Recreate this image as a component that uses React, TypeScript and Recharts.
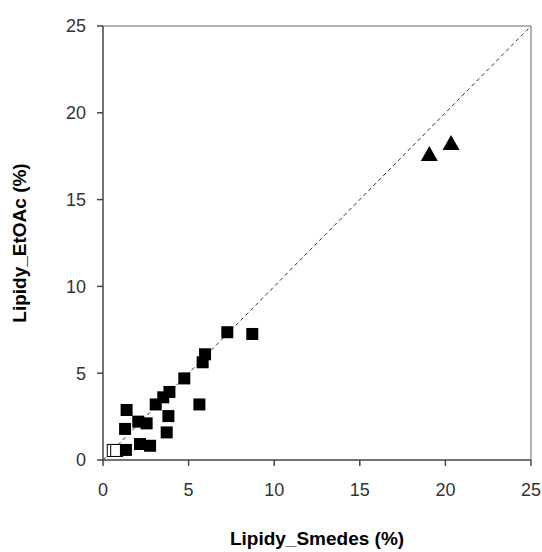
import React from "react";
import {
  ScatterChart,
  Scatter,
  XAxis,
  YAxis,
  ReferenceLine,
} from "recharts";

// plné čtverce
const filledX = [7.26, 8.72, 5.96, 5.82, 4.75, 3.88, 3.52, 3.08, 5.63, 3.82, 1.38, 2.06, 2.55, 1.29, 3.72, 2.16, 2.75, 1.34];
const filledY = [7.36, 7.26, 6.09, 5.63, 4.7, 3.92, 3.61, 3.2, 3.2, 2.53, 2.88, 2.21, 2.11, 1.79, 1.59, 0.92, 0.82, 0.58];

// prázdné čtverce u počátku
const hollowX = [0.6, 0.8];
const hollowY = [0.55, 0.55];

// trojúhelníky
const triX = [19.06, 20.33];
const triY = [17.57, 18.2];

const ticks = [0, 5, 10, 15, 20, 25];

const zip = (xs: number[], ys: number[]) => xs.map((x, i) => ({ x, y: ys[i] }));

const filled = zip(filledX, filledY);
const hollow = zip(hollowX, hollowY);
const tri = zip(triX, triY);

const font = "'Liberation Sans', Arial, sans-serif";
const tickStyle = { fill: "#333", fontSize: 18, fontFamily: font };

function Square(props: any) {
  const { cx, cy, hollow } = props;
  if (cx == null || cy == null) return null;
  const s = 12;
  return (
    <rect
      x={cx - s / 2}
      y={cy - s / 2}
      width={s}
      height={s}
      fill={hollow ? "#fff" : "#000"}
      stroke="#000"
      strokeWidth={hollow ? 1 : 0}
    />
  );
}

function Tri(props: any) {
  const { cx, cy } = props;
  if (cx == null || cy == null) return null;
  const w = 17;
  const h = 15;
  return (
    <path
      d={`M${cx},${cy - h * 0.6} L${cx + w / 2},${cy + h * 0.4} L${cx - w / 2},${cy + h * 0.4} Z`}
      fill="#000"
    />
  );
}

function YLabel(props: any) {
  const { viewBox } = props;
  const cy = viewBox.y + viewBox.height / 2;
  return (
    <text
      x={26}
      y={cy}
      transform={`rotate(-90, 26, ${cy})`}
      textAnchor="middle"
      fontSize={19}
      fontWeight={700}
      fontFamily={font}
      fill="#000"
    >
      Lipidy_EtOAc (%)
    </text>
  );
}

function XLabel(props: any) {
  const { viewBox } = props;
  const cx = viewBox.x + viewBox.width / 2;
  return (
    <text
      x={cx}
      y={545}
      textAnchor="middle"
      fontSize={19}
      fontWeight={700}
      fontFamily={font}
      fill="#000"
    >
      Lipidy_Smedes (%)
    </text>
  );
}

export default function App() {
  return (
    <div style={{ position: "fixed", left: 0, top: 0, background: "#fff" }}>
      <ScatterChart
        width={542}
        height={552}
        margin={{ top: 26, right: 11, bottom: 32, left: 43 }}
      >
        <XAxis
          type="number"
          dataKey="x"
          domain={[0, 25]}
          ticks={ticks}
          height={60}
          axisLine={{ stroke: "#444", strokeWidth: 1.5 }}
          tickLine={{ stroke: "#444", strokeWidth: 1.5 }}
          tickSize={6}
          tickMargin={17}
          tick={tickStyle}
          label={<XLabel />}
        />
        <YAxis
          type="number"
          dataKey="y"
          domain={[0, 25]}
          ticks={ticks}
          width={60}
          axisLine={{ stroke: "#444", strokeWidth: 1.5 }}
          tickLine={{ stroke: "#444", strokeWidth: 1.5 }}
          tickSize={6}
          tickMargin={11}
          tick={tickStyle}
          label={<YLabel />}
        />
        <ReferenceLine y={25} stroke="#999" strokeWidth={1.5} />
        <ReferenceLine x={25} stroke="#999" strokeWidth={1.5} />
        <ReferenceLine
          segment={[
            { x: 0, y: 0 },
            { x: 25, y: 25 },
          ]}
          stroke="#333"
          strokeDasharray="4 3"
        />
        <Scatter
          data={hollow}
          shape={(p: any) => <Square {...p} hollow />}
          isAnimationActive={false}
        />
        <Scatter data={filled} shape={(p: any) => <Square {...p} />} isAnimationActive={false} />
        <Scatter data={tri} shape={(p: any) => <Tri {...p} />} isAnimationActive={false} />
      </ScatterChart>
    </div>
  );
}
